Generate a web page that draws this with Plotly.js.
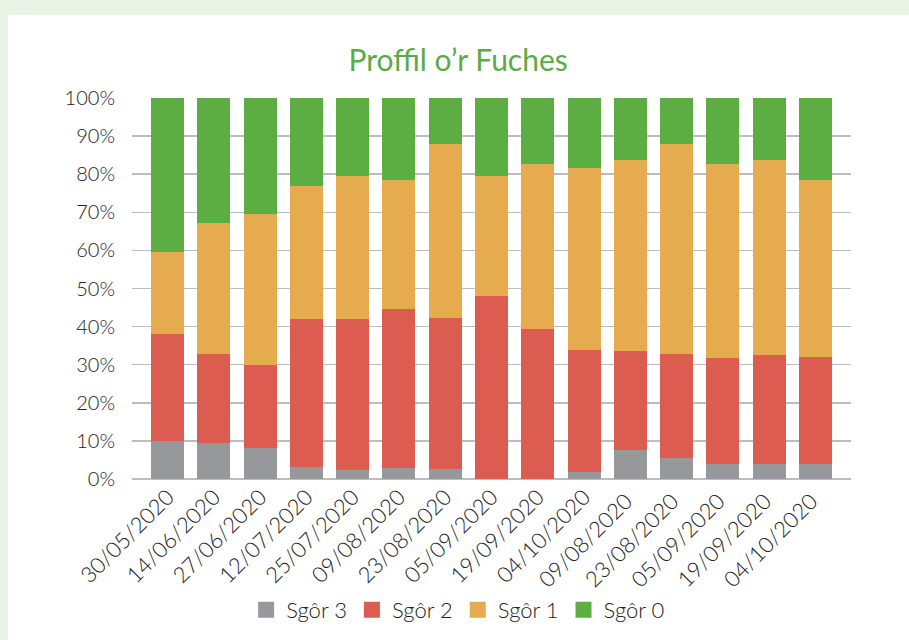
<!DOCTYPE html>
<html>
<head>
<meta charset="utf-8">
<script src="https://cdn.plot.ly/plotly-3.0.1.min.js"></script>
<style>
  html, body { margin: 0; padding: 0; background: #eaf2e5; width: 909px; height: 640px; overflow: hidden; }
  #card { position: absolute; left: 8px; top: 15px; width: 901px; height: 625px; background: #ffffff; }
  #chart { position: absolute; left: 0; top: 0; width: 909px; height: 640px; }
</style>
</head>
<body>
<div id="card"></div>
<div id="chart"></div>
<script>
const categories = ["30/05/2020","14/06/2020","27/06/2020","12/07/2020","25/07/2020","09/08/2020","23/08/2020","05/09/2020","19/09/2020","04/10/2020","09/08/2020 ","23/08/2020 ","05/09/2020 ","19/09/2020 ","04/10/2020 "];
const sgor3 = [10, 9.4, 8.1, 3.2, 2.3, 2.8, 2.5, 0, 0, 1.9, 7.5, 5.4, 4.0, 4.0, 4.0];
const sgor2 = [28, 23.3, 21.7, 38.7, 39.6, 41.8, 39.8, 48.1, 39.4, 32.0, 26.0, 27.4, 27.8, 28.5, 28.0];
const sgor1 = [21.6, 34.6, 39.8, 35.1, 37.7, 34.0, 45.5, 31.5, 43.4, 47.6, 50.1, 55.0, 51.0, 51.1, 46.6];
const sgor0 = [40.4, 32.7, 30.4, 23.0, 20.4, 21.4, 12.2, 20.4, 17.2, 18.5, 16.4, 12.2, 17.2, 16.4, 21.4];
const seriesNames = ["Sgôr 3", "Sgôr 2", "Sgôr 1", "Sgôr 0"];
const seriesColors = ["#97989c", "#dd5c51", "#e5ab4e", "#5cae42"];
const seriesValues = [sgor3, sgor2, sgor1, sgor0];
const yTickVals = [0, 10, 20, 30, 40, 50, 60, 70, 80, 90, 100];
const yTickText = ["0%", "10%", "20%", "30%", "40%", "50%", "60%", "70%", "80%", "90%", "100%"];

const idx = categories.map((_, i) => i);
const barTraces = seriesValues.map((vals, k) => ({
  type: "bar",
  name: seriesNames[k],
  legendgroup: seriesNames[k],
  showlegend: false,
  x: idx,
  y: vals,
  marker: { color: seriesColors[k], line: { width: 0 } },
  hoverinfo: "skip"
}));
// legend entries with larger square swatches
const legendTraces = seriesNames.map((nm, k) => ({
  type: "scatter",
  mode: "markers",
  name: nm,
  legendgroup: nm,
  x: [null],
  y: [null],
  marker: { symbol: "square", size: 20, color: seriesColors[k] },
  hoverinfo: "skip"
}));

const font = "Lato, 'Open Sans', sans-serif";
const textColor = "#222222";
const layout = {
  width: 909, height: 640,
  paper_bgcolor: "rgba(0,0,0,0)",
  plot_bgcolor: "rgba(0,0,0,0)",
  barmode: "stack",
  bargap: 0.286,
  margin: { l: 132, r: 58, t: 98, b: 161 },
  font: { family: font, color: textColor, size: 19, weight: 300 },
  title: {
    text: "Proffil o’r Fuches",
    font: { family: font, size: 30, color: "#5aab46", weight: 400 },
    xref: "container", x: 0.504, xanchor: "center",
    yref: "container", y: 0.906, yanchor: "middle"
  },
  xaxis: {
    range: [-0.77, 14.77],
    tickmode: "array",
    tickvals: idx,
    ticktext: categories,
    tickangle: -45,
    showgrid: false,
    zeroline: false,
    showline: false,
    ticks: "",
    tickfont: { size: 22, color: textColor, weight: 300 }
  },
  yaxis: {
    range: [0, 100],
    tickmode: "array",
    tickvals: yTickVals,
    ticktext: yTickText,
    showgrid: true,
    gridcolor: "#bdbdbd",
    gridwidth: 1.5,
    zeroline: true,
    zerolinecolor: "#bdbdbd",
    zerolinewidth: 1.5,
    ticks: "",
    ticklabelstandoff: 16,
    tickfont: { size: 20, color: textColor, weight: 300 }
  },
  showlegend: true,
  legend: {
    orientation: "h",
    traceorder: "normal",
    itemsizing: "trace",
    xref: "container", x: 0.504, xanchor: "center",
    yref: "container", y: 0.047, yanchor: "middle",
    font: { size: 22, color: textColor, weight: 300 },
    itemwidth: 30
  }
};

Plotly.newPlot("chart", barTraces.concat(legendTraces), layout, { displayModeBar: false, staticPlot: true });
</script>
</body>
</html>
